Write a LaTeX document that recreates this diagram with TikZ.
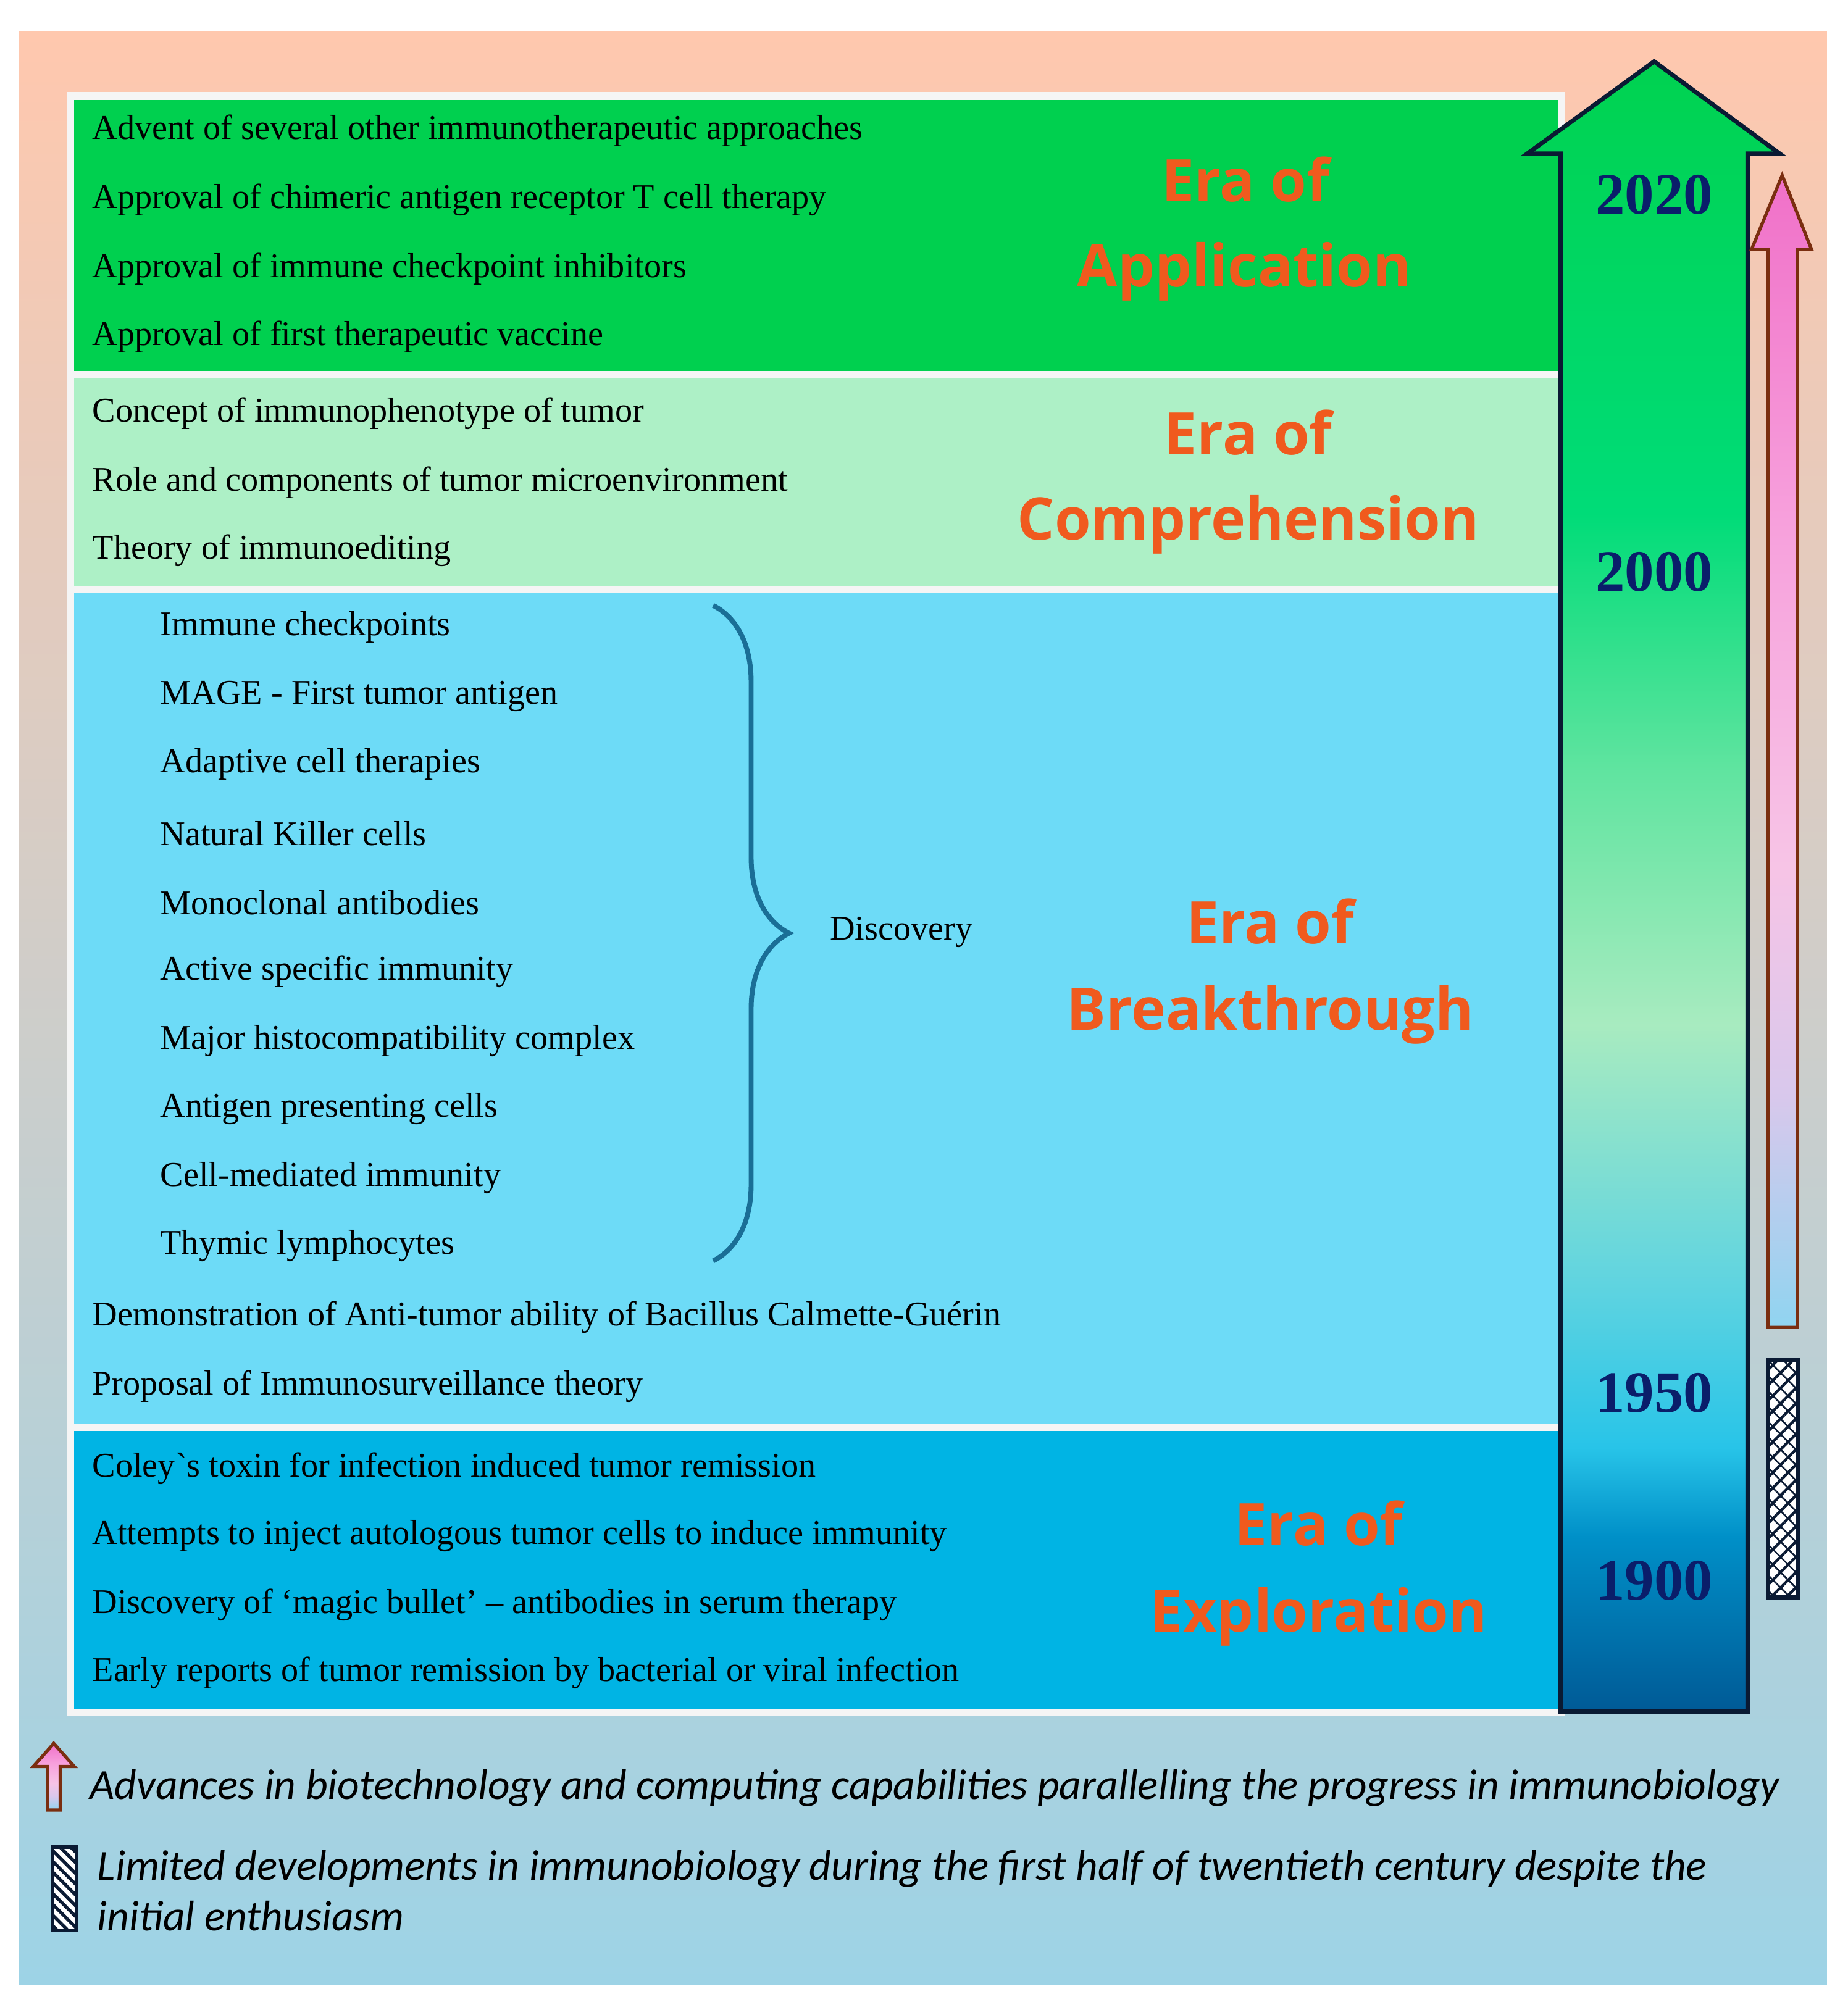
\documentclass[tikz,border=0pt]{standalone}
\usepackage{fontspec}
\setmainfont{Liberation Serif}
\newfontfamily\itemfont{Liberation Serif}
\newfontfamily\erafont{Open Sans}
\newfontfamily\legfont{Carlito}
\usetikzlibrary{patterns.meta,decorations.pathreplacing}
\definecolor{bgtop}{HTML}{FFC8AE}
\definecolor{bgmid}{HTML}{FCD6CC}
\definecolor{bgbot}{HTML}{9DD3E6}
\definecolor{appc}{HTML}{00D04F}
\definecolor{comc}{HTML}{ADF0C6}
\definecolor{brkc}{HTML}{6DDBF7}
\definecolor{expc}{HTML}{00B4E4}
\definecolor{erac}{HTML}{F05A1E}
\definecolor{yearc}{HTML}{0A1E6A}
\definecolor{bracec}{HTML}{1A6E96}
\definecolor{brownc}{HTML}{7A2E10}
\definecolor{navyc}{HTML}{0A1A33}
\definecolor{sa}{HTML}{005A96}
\definecolor{sb}{HTML}{0090C8}
\definecolor{sc}{HTML}{28C4E8}
\definecolor{sd}{HTML}{60D4E0}
\definecolor{se}{HTML}{A8EBC0}
\definecolor{sf}{HTML}{60E4A0}
\definecolor{sg}{HTML}{00DC78}
\definecolor{sh}{HTML}{00D250}
\definecolor{pa}{HTML}{90D4F0}
\definecolor{pb}{HTML}{D8C8EC}
\definecolor{pc}{HTML}{F7C4E6}
\definecolor{pd}{HTML}{F7A0DC}
\definecolor{pe}{HTML}{F070C8}
\pgfdeclareverticalshading{bigshade}{100bp}{
 color(0bp)=(sa);
 color(25bp)=(sa);
 color(30.3bp)=(sb);
 color(33bp)=(sc);
 color(38bp)=(sd);
 color(45.8bp)=(se);
 color(53.5bp)=(sf);
 color(61.3bp)=(sg);
 color(75bp)=(sh);
 color(100bp)=(sh)}
\pgfdeclareverticalshading{pinkshade}{100bp}{
 color(0bp)=(pa);
 color(25bp)=(pa);
 color(35bp)=(pb);
 color(45bp)=(pc);
 color(60bp)=(pd);
 color(75bp)=(pe);
 color(100bp)=(pe)}
\tikzset{
 item/.style={anchor=west,inner sep=0pt,font=\itemfont\fontsize{32}{38}\selectfont},
 era/.style={inner sep=0pt,text=erac,font=\erafont\bfseries\fontsize{54}{66}\selectfont},
 year/.style={inner sep=0pt,text=yearc,font=\itemfont\bfseries\fontsize{54}{60}\selectfont},
 leg/.style={anchor=west,inner sep=0pt,text=black,font=\legfont\itshape\fontsize{39.5}{46}\selectfont}
}
\begin{document}
\begin{tikzpicture}[x=0.04146cm,y=-0.04146cm]
\useasboundingbox (0,0) rectangle (1443,1564);
\fill[white] (0,0) rectangle (1443,1564);
\shade[top color=bgtop,middle color=bgmid,bottom color=bgbot] (15,25) rectangle (1427,1550);
% frame
\fill[white!92!gray] (52,72) rectangle (1222,1340);
\fill[appc] (58,78) rectangle (1217,290);
\fill[comc] (58,295) rectangle (1217,458);
\fill[brkc] (58,463) rectangle (1217,1112);
\fill[expc] (58,1118) rectangle (1217,1335);
% big arrow
\draw[navyc,line width=4pt,line join=miter,shading=bigshade]
 (1219,1337) -- (1219,120) -- (1193,120) -- (1292,48) -- (1390,120) -- (1365,120) -- (1365,1337) -- cycle;
\node[year] (y2020) at (1292,152) {2020};
\node[year] (y2000) at (1292,447) {2000};
\node[year] (y1950) at (1292,1088) {1950};
\node[year] (y1900) at (1292,1235) {1900};
% pink arrow
\draw[brownc,line width=3pt,shading=pinkshade]
 (1381,1037) -- (1381,195) -- (1368,195) -- (1392,137) -- (1415,195) -- (1404,195) -- (1404,1037) -- cycle;
% hatched bar
\fill[white] (1381,1062) rectangle (1404,1248);
\fill[pattern={Lines[angle=45,distance=10pt,line width=2.5pt]},pattern color=navyc] (1381,1062) rectangle (1404,1248);
\fill[pattern={Lines[angle=-45,distance=10pt,line width=1.5pt]},pattern color=navyc] (1381,1062) rectangle (1404,1248);
\draw[navyc,line width=4pt] (1381,1062) rectangle (1404,1248);
% application
\node[item] (a1) at (72,102) {Advent of several other immunotherapeutic approaches};
\node[item] (a2) at (72,156) {Approval of chimeric antigen receptor T cell therapy};
\node[item] (a3) at (72,210) {Approval of immune checkpoint inhibitors};
\node[item] (a4) at (72,263) {Approval of first therapeutic vaccine};
\node[era] (ea1) at (973,140) {Era of};
\node[era] (ea2) at (972,212) {Application};
% comprehension
\node[item] (c1) at (72,323) {Concept of immunophenotype of tumor};
\node[item] (c2) at (72,377) {Role and components of tumor microenvironment};
\node[item] (c3) at (72,430) {Theory of immunoediting};
\node[era] (ec1) at (975,338) {Era of};
\node[era] (ec2) at (975,410) {Comprehension};
% breakthrough
\node[item] (b1) at (125,490) {Immune checkpoints};
\node[item] (b2) at (125,544) {MAGE - First tumor antigen};
\node[item] (b3) at (125,597) {Adaptive cell therapies};
\node[item] (b4) at (125,651) {Natural Killer cells};
\node[item] (b5) at (125,705) {Monoclonal antibodies};
\node[item] (b6) at (125,759) {Active specific immunity};
\node[item] (b7) at (125,813) {Major histocompatibility complex};
\node[item] (b8) at (125,866) {Antigen presenting cells};
\node[item] (b9) at (125,920) {Cell-mediated immunity};
\node[item] (b10) at (125,973) {Thymic lymphocytes};
\node[item] (b11) at (72,1029) {Demonstration of Anti-tumor ability of Bacillus Calmette-Guérin};
\node[item] (b12) at (72,1083) {Proposal of Immunosurveillance theory};
\coordinate (bt) at (557,473);
\coordinate (bb) at (557,985);
\draw[bracec,line width=4.5pt,decorate,decoration={brace,amplitude=70pt,aspect=0.5}] (bt) -- (bb);
\node[item] (disc) at (648,728) {Discovery};
\node[era] (eb1) at (992,720) {Era of};
\node[era] (eb2) at (992,793) {Breakthrough};
% exploration
\node[item] (e1) at (72,1147) {Coley`s toxin for infection induced tumor remission};
\node[item] (e2) at (72,1200) {Attempts to inject autologous tumor cells to induce immunity};
\node[item] (e3) at (72,1254) {Discovery of ‘magic bullet’ – antibodies in serum therapy};
\node[item] (e4) at (72,1307) {Early reports of tumor remission by bacterial or viral infection};
\node[era] (ee1) at (1030,1190) {Era of};
\node[era] (ee2) at (1030,1263) {Exploration};
% legend
\draw[brownc,line width=3pt,shading=pinkshade]
 (37,1414) -- (37,1380) -- (26,1380) -- (42,1362) -- (58,1380) -- (47,1380) -- (47,1414) -- cycle;
\node[leg] (l1) at (70,1397) {Advances in biotechnology and computing capabilities parallelling the progress in immunobiology};
\fill[white] (41,1443) rectangle (60,1508);
\fill[pattern={Lines[angle=-45,distance=7pt,line width=3pt]},pattern color=navyc] (41,1443) rectangle (60,1508);
\draw[navyc,line width=3.5pt] (41,1443) rectangle (60,1508);
\node[leg] (l2) at (76,1460) {Limited developments in immunobiology during the first half of twentieth century despite the};
\node[leg] (l3) at (76,1497) {initial enthusiasm};
\end{tikzpicture}
\end{document}
